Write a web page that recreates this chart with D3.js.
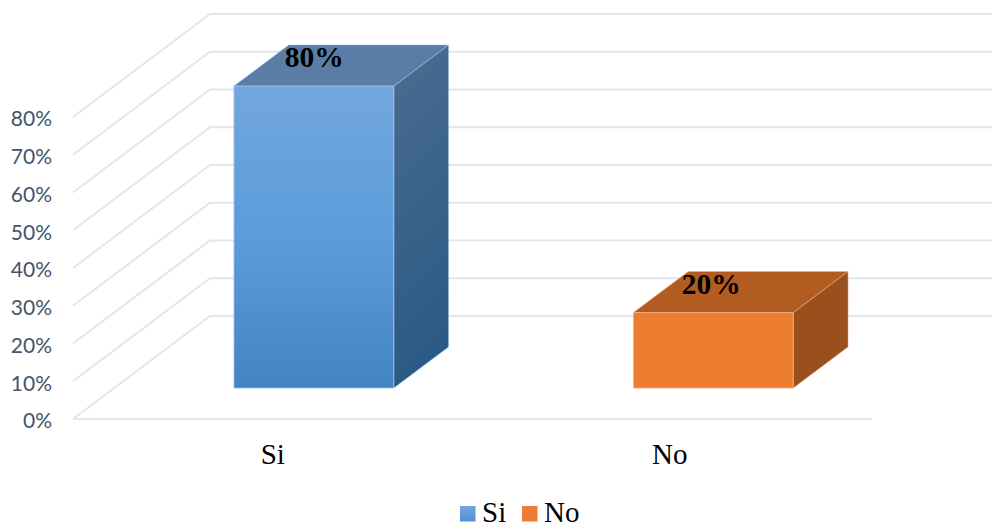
<!DOCTYPE html>
<html>
<head>
<meta charset="utf-8">
<script src="https://cdnjs.cloudflare.com/ajax/libs/d3/7.9.0/d3.min.js"></script>
<style>
  html, body { margin: 0; padding: 0; background: #fff; }
  svg { display: block; }
</style>
</head>
<body>
<svg id="chart" width="992" height="524"></svg>
<script>
// Survey shares shown as a 3D column chart
const categories = ["Si", "No"];
const shares = [0.8, 0.2];
const shareLabels = ["80%", "20%"];
const axisTicks = [0, 0.1, 0.2, 0.3, 0.4, 0.5, 0.6, 0.7, 0.8];

const svg = d3.select("#chart");
const defs = svg.append("defs");

// Front plane of the oblique projection
const x = d3.scaleBand().domain(categories).range([73, 872]);
const y = d3.scaleLinear().domain([0, 0.8]).range([419, 117]);

// Depth axis: 0 is the front plane, 1 the back wall
const depthX = d3.scaleLinear().domain([0, 1]).range([0, 137]);
const depthY = d3.scaleLinear().domain([0, 1]).range([0, -103]);
const project = (px, value, depth) => [px + depthX(depth), y(value) + depthY(depth)];

const gridColor = "#e2e6ec";
const serif = "'Liberation Serif', 'Times New Roman', serif";
const line = d3.line();

// Gradients for the blue column and its legend key
function verticalGradient(id, stops, x2 = "0%") {
  const g = defs.append("linearGradient").attr("id", id)
    .attr("x1", "0%").attr("y1", "0%").attr("x2", x2).attr("y2", "100%");
  stops.forEach(([offset, color]) => g.append("stop").attr("offset", offset).attr("stop-color", color));
}
verticalGradient("blueFront", [["0%", "#72a7de"], ["50%", "#5b9cdb"], ["100%", "#4484c5"]]);
verticalGradient("blueSide", [["0%", "#4b6c90"], ["100%", "#2a5a85"]], "15%");
verticalGradient("blueKey", [["0%", "#72a7de"], ["100%", "#4f90d2"]]);

const palette = [
  { front: "url(#blueFront)", side: "url(#blueSide)", top: "#5a7da8", edge: "#a9c6e6", key: "url(#blueKey)" },
  { front: "#ed7d31", side: "#99501c", top: "#b35c22", edge: "#f3b48a", key: "#ed7d31" }
];

// Gridlines across the side wall and the back wall
const grid = svg.append("g").attr("fill", "none").attr("stroke", gridColor).attr("stroke-width", 2);
axisTicks.forEach(t => {
  grid.append("path").attr("d", line([
    project(x.range()[0], t, 0),
    project(x.range()[0], t, 1),
    project(x.range()[1], t, 1)
  ]));
});
grid.append("path").attr("d", line([project(x.range()[0], 0, 0), project(x.range()[1], 0, 0)]));

// Columns: side, top and front faces
const barFrac = 0.4, depthStart = 0.3, depthEnd = 0.7;
const bars = svg.append("g").selectAll("g")
  .data(categories.map((name, i) => ({ name, value: shares[i], label: shareLabels[i], colors: palette[i] })))
  .join("g");

const x0 = d => x(d.name) + x.bandwidth() * (0.5 - barFrac / 2);
const x1 = d => x(d.name) + x.bandwidth() * (0.5 + barFrac / 2);
const closed = pts => line(pts) + "Z";

bars.append("path")
  .attr("d", d => closed([
    project(x1(d), 0, depthStart), project(x1(d), 0, depthEnd),
    project(x1(d), d.value, depthEnd), project(x1(d), d.value, depthStart)
  ]))
  .attr("fill", d => d.colors.side)
  .attr("stroke", d => d.colors.edge).attr("stroke-width", 0.5);

bars.append("path")
  .attr("d", d => closed([
    project(x0(d), d.value, depthStart), project(x0(d), d.value, depthEnd),
    project(x1(d), d.value, depthEnd), project(x1(d), d.value, depthStart)
  ]))
  .attr("fill", d => d.colors.top)
  .attr("stroke", d => d.colors.edge).attr("stroke-width", 0.5);

bars.append("path")
  .attr("d", d => closed([
    project(x0(d), 0, depthStart), project(x1(d), 0, depthStart),
    project(x1(d), d.value, depthStart), project(x0(d), d.value, depthStart)
  ]))
  .attr("fill", d => d.colors.front)
  .attr("stroke", d => d.colors.edge).attr("stroke-width", 0.75);

// Value labels sit on the top face of each column
bars.append("text")
  .attr("x", (d, i) => (x0(d) + x1(d)) / 2 + depthX(depthStart) + (i === 0 ? 0.5 : -2))
  .attr("y", d => y(d.value) + depthY(depthStart) - 19)
  .attr("text-anchor", "middle")
  .attr("font-family", serif)
  .attr("font-weight", "bold")
  .attr("font-size", 29.5)
  .attr("fill", "#000")
  .text(d => d.label);

// Value axis labels
const yAxis = svg.append("g")
  .attr("transform", "translate(60,0)")
  .call(d3.axisLeft(y).tickValues(axisTicks).tickFormat(d3.format(".0%")).tickSize(0).tickPadding(8));
yAxis.select(".domain").remove();
yAxis.selectAll("text")
  .attr("font-family", "Lato, 'Open Sans', sans-serif")
  .attr("font-size", 21)
  .attr("dy", "0.42em")
  .attr("fill", "#44546a");

// Category axis labels
const xAxis = svg.append("g")
  .attr("transform", "translate(0,419)")
  .call(d3.axisBottom(x).tickSize(0).tickPadding(24));
xAxis.select(".domain").remove();
xAxis.selectAll("text")
  .attr("dx", (d, i) => i === 0 ? 0 : -2.5)
  .attr("font-family", serif)
  .attr("font-size", 29)
  .attr("fill", "#000");

// Legend along the bottom edge
const legendLeft = d3.scalePoint().domain(categories).range([460, 522]);
const legend = svg.append("g").selectAll("g")
  .data(categories.map((name, i) => ({ name, colors: palette[i] })))
  .join("g")
  .attr("transform", d => `translate(${legendLeft(d.name)},506)`);
legend.append("rect").attr("width", 15.5).attr("height", 15.5).attr("fill", d => d.colors.key);
legend.append("text")
  .attr("x", 22).attr("y", 16)
  .attr("font-family", serif)
  .attr("font-size", 29)
  .attr("fill", "#000")
  .text(d => d.name);
</script>
</body>
</html>
